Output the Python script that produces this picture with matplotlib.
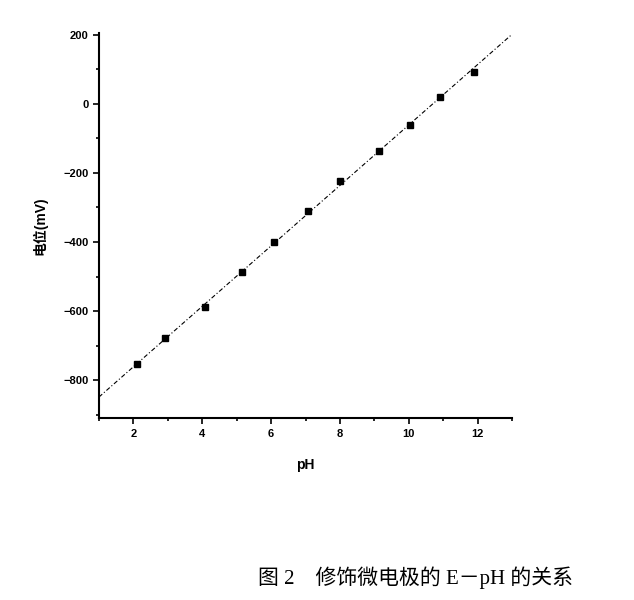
#E-pH relationship of the modified microelectrode
import numpy as np
import matplotlib.pyplot as plt
from matplotlib.ticker import MultipleLocator

plt.rcParams['font.family'] = ['Liberation Sans', 'Noto Sans CJK SC']

#data
ph = [2.12, 2.93, 4.09, 5.16, 6.09, 7.07, 8.0, 9.13, 10.03, 10.9, 11.88]
potential = [-754, -678, -588, -487, -400, -310, -223, -136, -61, 20, 93]
x_ticks = [2, 4, 6, 8, 10, 12]
y_ticks = [-800, -600, -400, -200, 0, 200]

#linear fit
slope, intercept = np.polyfit(ph, potential, 1)
x_fit = np.array([1.0, 12.95])
y_fit = slope * x_fit + intercept

fig = plt.figure(figsize=(6.34, 6.0), dpi=100)
ax = fig.add_axes([0.156, 0.303, 0.652, 0.642])

ax.plot(x_fit, y_fit, color='black', lw=0.8, ls=(0, (4, 2, 1, 2)))
ax.plot(ph, potential, 's', color='black', ms=4.5)

ax.set_xlim(1, 13)
ax.set_ylim(-910, 205)
ax.set_xticks(x_ticks)
ax.set_yticks(y_ticks)
ax.xaxis.set_minor_locator(MultipleLocator(1))
ax.yaxis.set_minor_locator(MultipleLocator(100))
ax.tick_params(which='both', direction='out', width=1.2, labelsize=8)
ax.tick_params(which='major', length=4)
ax.tick_params(which='minor', length=2.5)
for lab in ax.get_xticklabels() + ax.get_yticklabels():
    lab.set_fontweight('bold')

ax.spines['top'].set_visible(False)
ax.spines['right'].set_visible(False)
ax.spines['left'].set_linewidth(1.5)
ax.spines['bottom'].set_linewidth(1.5)

ax.set_xlabel('pH', fontsize=10, fontweight='bold', labelpad=14)
ax.set_ylabel('电位(mV)', fontsize=10, fontweight='bold', labelpad=11)

fig.text(0.407, 0.037, '图 2    修饰微电极的 E－pH 的关系', fontsize=15, va='center',
         family=['Liberation Serif', 'Noto Sans CJK SC'])

fig.savefig('out.png', dpi=100)
